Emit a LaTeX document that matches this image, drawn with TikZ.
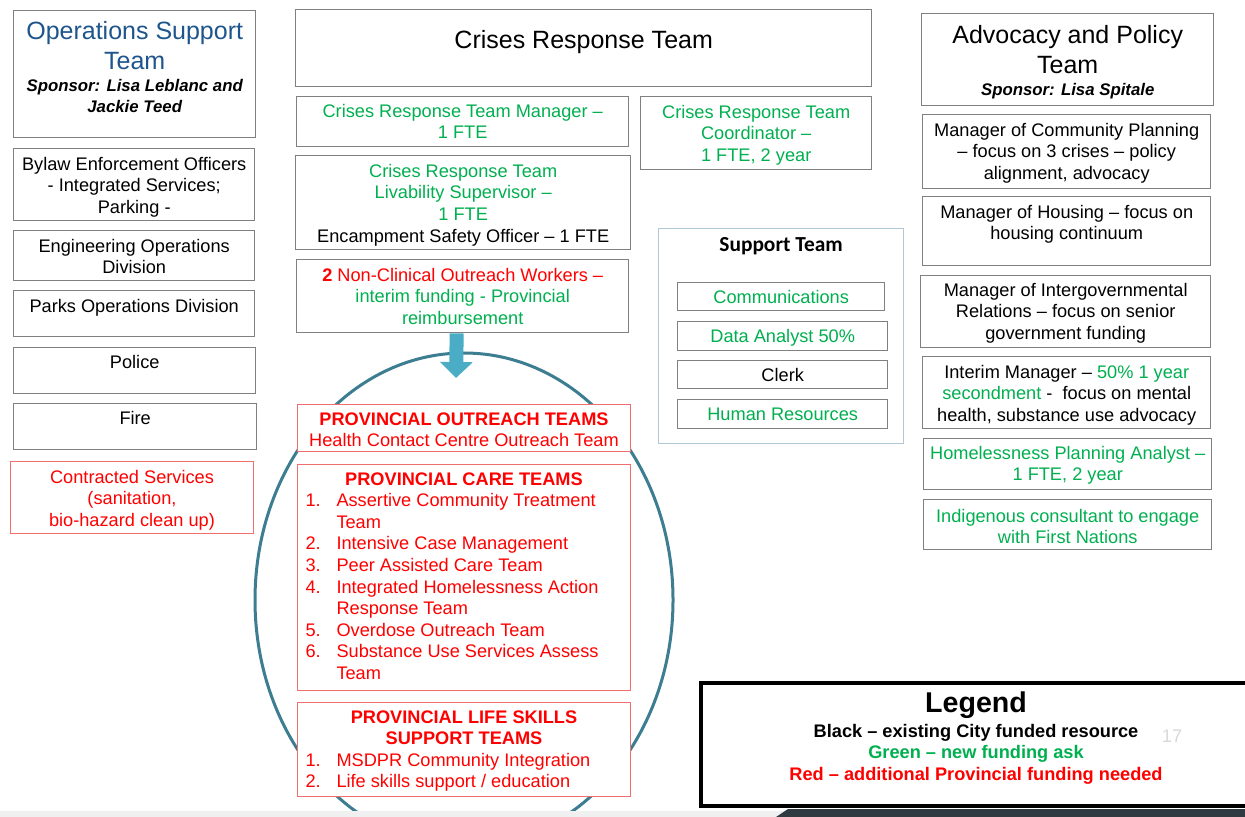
\documentclass[tikz,border=0pt]{standalone}
\usepackage{fontspec}
\setmainfont{Liberation Sans}
\newfontfamily\calibri{Carlito}
\usetikzlibrary{shapes.geometric,arrows.meta}
\newlength\U \setlength\U{0.5pt}
\definecolor{cgreen}{RGB}{0,176,80}
\definecolor{cred}{RGB}{255,0,0}
\definecolor{opsblue}{RGB}{30,85,140}
\definecolor{boxgray}{RGB}{128,128,128}
\definecolor{redline}{RGB}{240,110,110}
\definecolor{suppline}{RGB}{176,200,216}
\definecolor{ellcol}{RGB}{60,125,145}
\definecolor{arrcol}{RGB}{75,172,198}
\definecolor{stripgray}{RGB}{240,240,240}
\definecolor{darkbar}{RGB}{47,59,64}
\definecolor{pagenum}{RGB}{217,217,217}
\newcommand\fbody{\fontsize{9.1}{10.8}\selectfont}
\newcommand\ftitle{\fontsize{12.5}{15}\selectfont}
\newcommand\fspons{\fontsize{8.4}{10.8}\selectfont\bfseries\itshape}
\newcommand\G[1]{\textcolor{cgreen}{#1}}
\newcommand\bt[4]{\parbox[t][#2\U][t]{#1\U}{\vspace*{#3\U}\centering #4\par}}
\newcommand\li[2]{\makebox[317\U][l]{\makebox[31\U][l]{#1}#2}}
\begin{document}
\begin{tikzpicture}[x=0.5pt,y=-0.5pt,
  gbox/.style={draw=boxgray, line width=0.7pt, fill=white, inner sep=0pt, anchor=north west, font=\fbody},
  rbox/.style={gbox, draw=redline, line width=0.5pt},
  sbox/.style={gbox, draw=suppline, line width=0.6pt},
  legbox/.style={gbox, draw=black, line width=2pt},
  bigarrow/.style={draw=arrcol, line width=7pt, -{Triangle[length=8pt,width=16pt]}},
  ellstyle/.style={ellipse, draw=ellcol, line width=1.5pt, inner sep=0pt, minimum width=209pt, minimum height=247pt}]
\useasboundingbox (0,0) rectangle (1245,817);
\clip (0,0) rectangle (1245,817);
\fill[white] (0,0) rectangle (1245,817);

% ellipse
\node[ellstyle] (ell) at (464,600) {};

% left column
\node[gbox] (ops) at (13,10) {\bt{242}{127}{8}{{\ftitle\color{opsblue}\strut Operations Support\\Team\par}{\fspons\strut Sponsor: Lisa Leblanc and\\Jackie Teed\par}}};
\node[gbox] (bylaw) at (13,148) {\bt{241}{72}{6.4}{\strut Bylaw Enforcement Officers\\- Integrated Services;\\Parking -}};
\node[gbox] (eng) at (13,230) {\bt{241}{50}{6.4}{\strut Engineering Operations\\Division}};
\node[gbox] (parks) at (13,290) {\bt{241}{46}{6.4}{\strut Parks Operations Division}};
\node[gbox] (police) at (13,347) {\bt{242}{46}{5.4}{\strut Police}};
\node[gbox] (fire) at (13,403) {\bt{243}{46}{5.4}{\strut Fire}};
\node[rbox] (contr) at (10,461) {\bt{243}{72}{6.4}{\strut\color{cred}Contracted Services\\(sanitation,\\bio-hazard clean up)}};

% middle column
\node[gbox] (crt) at (295,9) {\bt{576}{77}{18}{\ftitle\strut Crises Response Team}};
\node[gbox] (mgr) at (296,96) {\bt{332}{50}{5.4}{\strut\color{cgreen}Crises Response Team Manager –\\1 FTE}};
\node[gbox] (coord) at (640,96) {\bt{231}{73}{6.4}{\strut\color{cgreen}Crises Response Team\\Coordinator –\\1 FTE, 2 year}};
\node[gbox] (liv) at (295,155) {\bt{335}{94}{6.4}{\strut\G{Crises Response Team}\\\G{Livability Supervisor –}\\\G{1 FTE}\\Encampment Safety Officer – 1 FTE}};
\node[gbox] (nc) at (296,259) {\bt{332}{73}{6.4}{\strut\color{cred}\textbf{2} Non-Clinical Outreach Workers –\\\color{cgreen}interim funding - Provincial\\reimbursement}};

% provincial boxes
\node[rbox] (outr) at (297,404) {\bt{333}{47}{5.4}{\strut\color{cred}\textbf{PROVINCIAL OUTREACH TEAMS}\\Health Contact Centre Outreach Team}};
\node[rbox] (care) at (297,464) {\bt{333}{226}{5.4}{\strut\color{cred}\textbf{PROVINCIAL CARE TEAMS}\\
\li{1.}{Assertive Community Treatment}\\
\li{}{Team}\\
\li{2.}{Intensive Case Management}\\
\li{3.}{Peer Assisted Care Team}\\
\li{4.}{Integrated Homelessness Action}\\
\li{}{Response Team}\\
\li{5.}{Overdose Outreach Team}\\
\li{6.}{Substance Use Services Assess}\\
\li{}{Team}}};
\node[rbox] (life) at (297,702) {\bt{333}{94}{5.4}{\strut\color{cred}\textbf{PROVINCIAL LIFE SKILLS\\SUPPORT TEAMS}\\
\li{1.}{MSDPR Community Integration}\\
\li{2.}{Life skills support / education}}};

% arrow
\coordinate (tip) at (456,378);
\draw[bigarrow] ([xshift=-3pt]nc.south) -- (tip);

% support team
\node[sbox] (supp) at (658,228) {\bt{245}{215}{4.7}{\calibri\bfseries\fontsize{10.7}{13}\selectfont\strut Support Team}};
\node[gbox] (comm) at (677,282) {\bt{207}{28}{5.4}{\strut\color{cgreen}Communications}};
\node[gbox] (data) at (677,321) {\bt{210}{29}{5.4}{\strut\color{cgreen}Data Analyst 50\%}};
\node[gbox] (clerk) at (677,360) {\bt{210}{28}{5.4}{\strut Clerk}};
\node[gbox] (hr) at (677,399) {\bt{210}{29}{5.4}{\strut\color{cgreen}Human Resources}};

% right column
\node[gbox] (adv) at (921,13) {\bt{292}{92}{9}{{\ftitle\strut Advocacy and Policy\\Team\par}{\fspons\strut Sponsor: Lisa Spitale\par}}};
\node[gbox] (cp) at (922,114) {\bt{288}{74}{6.4}{\strut Manager of Community Planning\\– focus on 3 crises – policy\\alignment, advocacy}};
\node[gbox] (hous) at (922,196) {\bt{288}{69}{6.4}{\strut Manager of Housing – focus on\\housing continuum}};
\node[gbox] (igr) at (920,275) {\bt{290}{72}{5.4}{\strut Manager of Intergovernmental\\Relations – focus on senior\\government funding}};
\node[gbox] (interim) at (922,356) {\bt{288}{72}{6.4}{\strut Interim Manager – \G{50\% 1 year}\\\G{secondment} -\ \ focus on mental\\health, substance use advocacy}};
\node[gbox] (hpa) at (923,438) {\bt{288}{51}{5.4}{\strut\color{cgreen}Homelessness Planning Analyst –\\1 FTE, 2 year}};
\node[gbox] (indig) at (923,499) {\bt{288}{50}{7.4}{\strut\color{cgreen}Indigenous consultant to engage\\with First Nations}};

% legend
\node[legbox] (leg) at (699,681) {\bt{550}{123}{8.3}{{\bfseries\fontsize{14.3}{17}\selectfont Legend\par}\vspace{3.7\U}{\fbody\bfseries\strut Black – existing City funded resource\\\color{cgreen}Green – new funding ask\\\color{cred}Red – additional Provincial funding needed\par}}};
\node[font=\fbody, text=pagenum] (pg) at (1172,736) {17};

% bottom strip
\fill[stripgray] (0,811) rectangle (1245,817);
\fill[darkbar] (776,817) -- (788,809) -- (1245,809) -- (1245,817) -- cycle;
\end{tikzpicture}
\end{document}
